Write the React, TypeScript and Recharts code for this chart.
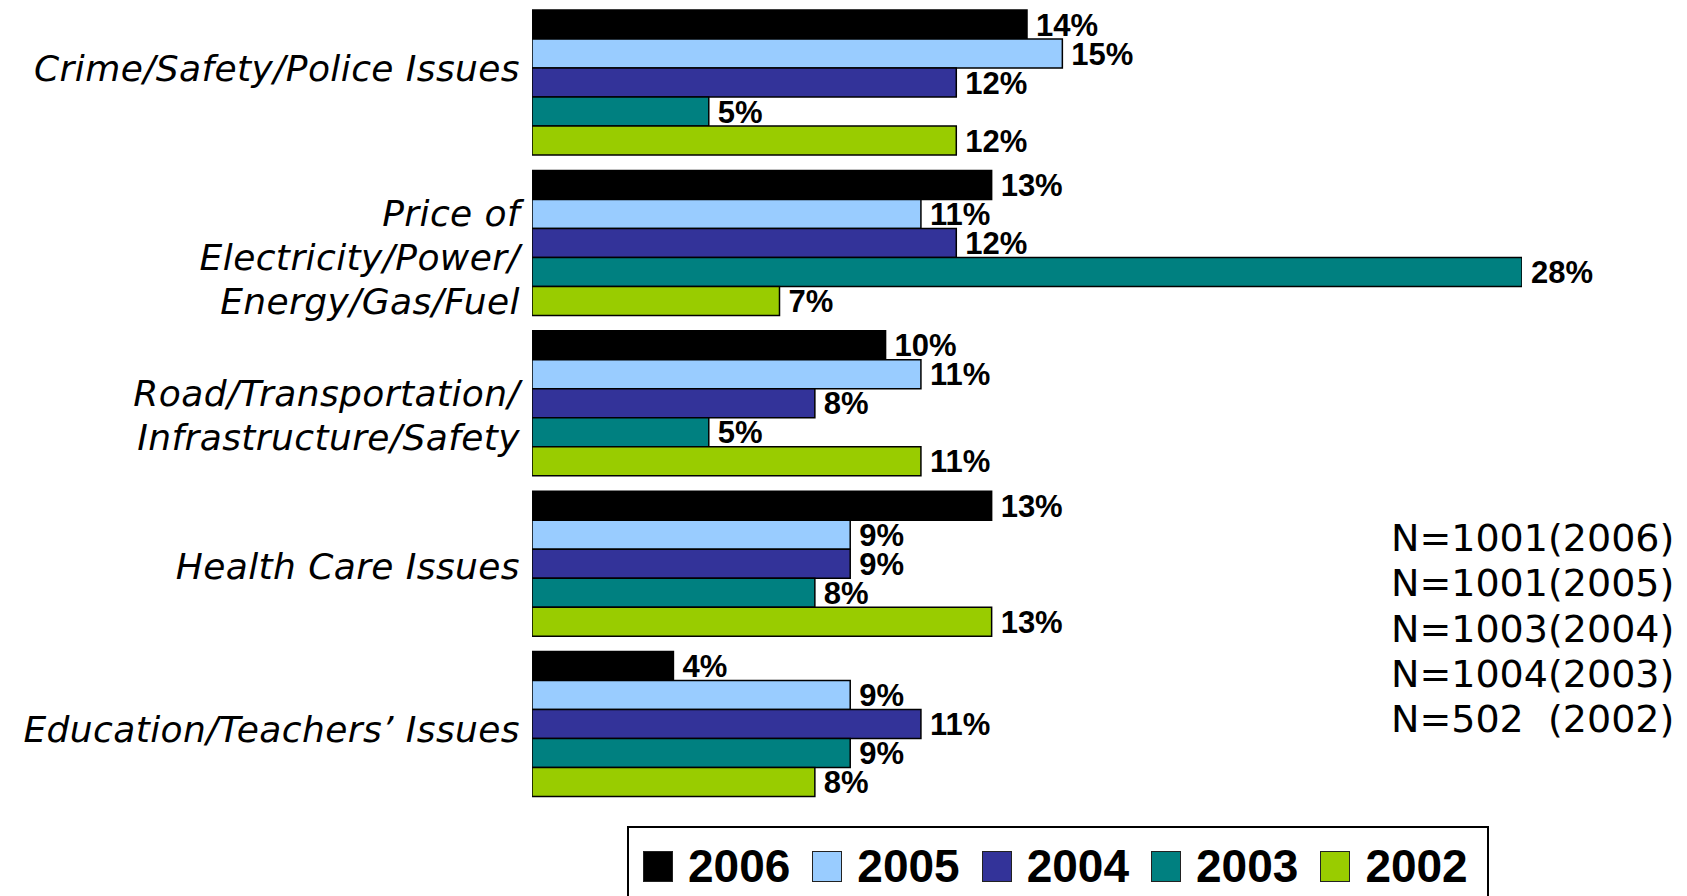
import React from 'react';
import { BarChart, Bar, XAxis, YAxis, LabelList } from 'recharts';

const categories = [
  'Crime/Safety/Police Issues',
  'Price of\nElectricity/Power/\nEnergy/Gas/Fuel',
  'Road/Transportation/\nInfrastructure/Safety',
  'Health Care Issues',
  'Education/Teachers\u2019 Issues',
];

const v2006 = [14, 13, 10, 13, 4];
const v2005 = [15, 11, 11, 9, 9];
const v2004 = [12, 12, 8, 9, 11];
const v2003 = [5, 28, 5, 8, 9];
const v2002 = [12, 7, 11, 13, 8];

const sampleNotes = ['N=1001(2006)', 'N=1001(2005)', 'N=1003(2004)', 'N=1004(2003)', 'N=502  (2002)'];

const series = [
  { key: 'y2006', name: '2006', values: v2006, color: '#000000' },
  { key: 'y2005', name: '2005', values: v2005, color: '#99CCFF' },
  { key: 'y2004', name: '2004', values: v2004, color: '#333399' },
  { key: 'y2003', name: '2003', values: v2003, color: '#008080' },
  { key: 'y2002', name: '2002', values: v2002, color: '#99CC00' },
];

const data = categories.map((name, i) => {
  const row: Record<string, string | number> = { name };
  series.forEach((s) => {
    row[s.key] = s.values[i];
  });
  return row;
});

// the original labels sit a little off the middle of their groups
const labelNudge = [-14, 14, 12, 3, 5];
const LINE_H = 44;

const CategoryTick = (props: any) => {
  const { x, y, payload, index } = props;
  const lines = String(payload.value).split('\n');
  const start = -((lines.length - 1) / 2) * LINE_H + 13 + (labelNudge[index] || 0);
  return (
    <text
      x={x}
      y={y}
      textAnchor="end"
      fontFamily="'DejaVu Sans', Verdana, sans-serif"
      fontStyle="italic"
      fontSize={36}
      letterSpacing={0.4}
      fill="#000"
    >
      {lines.map((l, i) => (
        <tspan key={i} x={x} dy={i === 0 ? start : LINE_H}>
          {l}
        </tspan>
      ))}
    </text>
  );
};

const pct = (v: any) => `${v}%`;

export default function App() {
  return (
    <div style={{ position: 'absolute', left: 0, top: 0, width: 1687, height: 896, background: '#fff', overflow: 'hidden' }}>
      <BarChart
        width={1687}
        height={896}
        data={data}
        layout="vertical"
        margin={{ top: 2, right: 165, bottom: 92, left: 0 }}
        barCategoryGap={8}
        barGap={0}
      >
        <XAxis type="number" domain={[0, 28]} allowDataOverflow hide />
        <YAxis
          type="category"
          dataKey="name"
          width={532}
          axisLine={false}
          tickLine={false}
          tickSize={0}
          tickMargin={12}
          interval={0}
          tick={<CategoryTick />}
        />
        {series.map((s) => (
          <Bar key={s.key} dataKey={s.key} name={s.name} fill={s.color} stroke="#000" strokeWidth={1.5} isAnimationActive={false}>
            <LabelList
              dataKey={s.key}
              position="right"
              offset={9}
              formatter={pct}
              fill="#000"
              fontFamily="'Liberation Sans', Arial, sans-serif"
              fontWeight="bold"
              fontSize={31}
            />
          </Bar>
        ))}
      </BarChart>

      <div
        style={{
          position: 'absolute',
          left: 1391,
          top: 516,
          fontFamily: "'DejaVu Sans', Verdana, sans-serif",
          fontSize: 38,
          lineHeight: '45.3px',
          whiteSpace: 'pre',
          color: '#000',
        }}
      >
        {sampleNotes.map((n) => (
          <div key={n}>{n}</div>
        ))}
      </div>

      <div
        style={{
          position: 'absolute',
          left: 627,
          top: 826,
          width: 862,
          height: 100,
          border: '2px solid #000',
          display: 'flex',
          alignItems: 'flex-start',
          paddingLeft: 14,
          paddingTop: 21,
          boxSizing: 'border-box',
        }}
      >
        {series.map((s) => (
          <div key={s.key} style={{ display: 'flex', alignItems: 'center', marginRight: 22 }}>
            <div style={{ width: 28, height: 29, background: s.color, border: '1.5px solid #222', marginRight: 15 }} />
            <span style={{ fontFamily: "'Liberation Sans', Arial, sans-serif", fontWeight: 'bold', fontSize: 46, lineHeight: '34px', color: '#000' }}>
              {s.name}
            </span>
          </div>
        ))}
      </div>
    </div>
  );
}
